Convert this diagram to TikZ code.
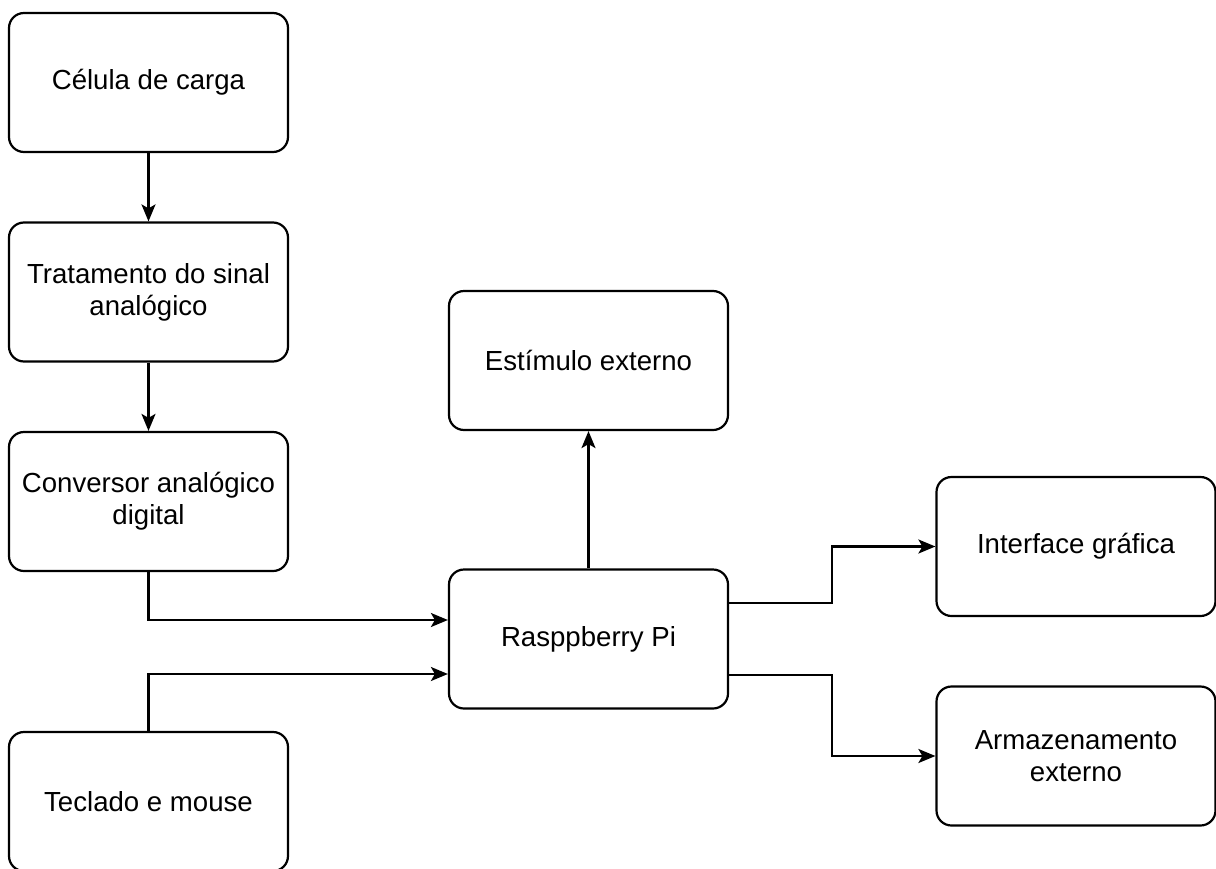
\documentclass[tikz,border=0pt]{standalone}
\usepackage{fontspec}
\setmainfont{Liberation Sans}
\usetikzlibrary{arrows.meta,calc}
\begin{document}
\begin{tikzpicture}[x=0.5pt,y=-0.5pt,
  box/.style={draw=black,line width=1.1pt,rounded corners=7.5pt,
    minimum width=139.5pt,minimum height=69.5pt,align=center,
    font=\fontsize{13.8}{16}\selectfont,inner sep=2pt},
  conn/.style={draw=black,line width=1.1pt,-{Stealth[length=8.5pt,width=7pt,inset=2pt]}}]
\useasboundingbox (0,0) rectangle (1216,868);
\node[box] (cel)  at (148.5,82.5) {Célula de carga};
\node[box] (trat) at (148.5,292) {Tratamento do sinal\\analógico};
\node[box] (conv) at (148.5,501.5) {Conversor analógico\\digital};
\node[box] (tec)  at (148.5,801.5) {Teclado e mouse};
\node[box] (est)  at (588.5,360.5) {Estímulo externo};
\node[box] (rasp) at (588.5,639) {Rasppberry Pi};
\node[box] (int)  at (1076,546.5) {Interface gráfica};
\node[box] (arm)  at (1076,756) {Armazenamento\\externo};
\coordinate (rin1) at ($(rasp.west)+(0,-19)$);
\coordinate (rin2) at ($(rasp.west)+(0,35)$);
\coordinate (rout1) at ($(rasp.east)+(0,-36)$);
\coordinate (rout2) at ($(rasp.east)+(0,36)$);
\coordinate (bend) at (832,0);
\draw[conn] (cel.south) -- (trat.north);
\draw[conn] (trat.south) -- (conv.north);
\draw[conn] (conv.south) |- (rin1);
\draw[conn] (tec.north) |- (rin2);
\draw[conn] (rasp.north) -- (est.south);
\draw[conn] (rout1) -- (bend |- rout1) |- (int.west);
\draw[conn] (rout2) -- (bend |- rout2) |- (arm.west);
\end{tikzpicture}
\end{document}
